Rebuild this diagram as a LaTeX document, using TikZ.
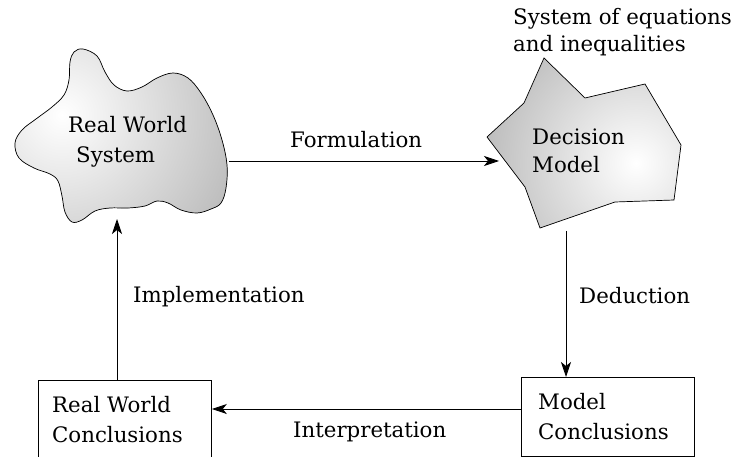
\documentclass[tikz,border=0pt]{standalone}
\usepackage{fontspec}
\setmainfont{DejaVu Serif}
\usetikzlibrary{arrows.meta}
\begin{document}
\begin{tikzpicture}[x=1pt,y=-1pt,
  lbl/.style={font=\fontsize{21.3}{25}\selectfont, inner sep=0pt, anchor=base west},
  conn/.style={draw, line width=0.8pt, -{Stealth[length=15pt,width=10pt,inset=4pt]}},
  boxstyle/.style={draw, line width=0.8pt, rectangle, inner sep=0pt, anchor=north west},
  blob/.style={draw, line width=0.7pt, fill=black!52}]
\useasboundingbox (0,0) rectangle (750,457);
\coordinate (cloudlight) at (62,115);
\coordinate (polylight) at (636,163);
% cloud
\path[blob, path picture={\shade[inner color=white, outer color=black!55] (cloudlight) circle (390);}]
  plot[smooth cycle, tension=0.6] coordinates {
  (70,62) (74,52) (83,49) (97,56) (105,72) (114,85) (127,91) (142,87) (157,78) (173,73)
  (188,78) (201,93) (213,115) (222,140) (227,165) (226,188) (221,203) (211,209) (197,213)
  (181,210) (168,203) (157,201) (145,206) (128,208) (110,208) (95,211) (82,220) (72,222)
  (65,212) (62,196) (58,181) (50,174) (34,168) (19,158) (15,143) (22,130) (36,119) (52,107)
  (64,95) (69,80)};
% polygon
\path[blob, path picture={\shade[inner color=white, outer color=black!58] (polylight) circle (340);}]
  (544,58) -- (585,98) -- (645,84) -- (681,145) -- (674,200) -- (615,202) -- (540,228)
  -- (525,187) -- (487,137) -- (524,103) -- cycle;
% boxes
\node[boxstyle, minimum width=173, minimum height=82] (rwc) at (38,380) {};
\node[boxstyle, minimum width=173, minimum height=79] (mc) at (521,377) {};
% texts
\node[lbl] (t1) at (68,133) {Real World};
\node[lbl] (t2) at (76,163) {System};
\node[lbl] (t3) at (532,145) {Decision};
\node[lbl] (t4) at (532,173) {Model};
\node[lbl] (t5) at (513,25) {System of equations};
\node[lbl] (t6) at (513,52) {and inequalities};
\node[lbl] (t7) at (52,412) {Real World};
\node[lbl] (t8) at (52,442) {Conclusions};
\node[lbl] (t9) at (538,409) {Model};
\node[lbl] (t10) at (538,439) {Conclusions};
\node[lbl] (lf) at (290,148) {Formulation};
\node[lbl] (li) at (133,302) {Implementation};
\node[lbl] (ld) at (579,303) {Deduction};
\node[lbl] (lt) at (293,437) {Interpretation};
% connector end points
\coordinate (fs) at (229,161);
\coordinate (fe) at (499,161);
\coordinate (ds) at (566,231);
\coordinate (ie) at (117,219);
\draw[conn] (fs) -- (fe);
\draw[conn] (ds) -- (mc.north west -| ds);
\draw[conn] (mc.west |- 0,409) -- (rwc.east |- 0,409);
\draw[conn] (rwc.north -| ie) -- (ie);
\end{tikzpicture}
\end{document}
